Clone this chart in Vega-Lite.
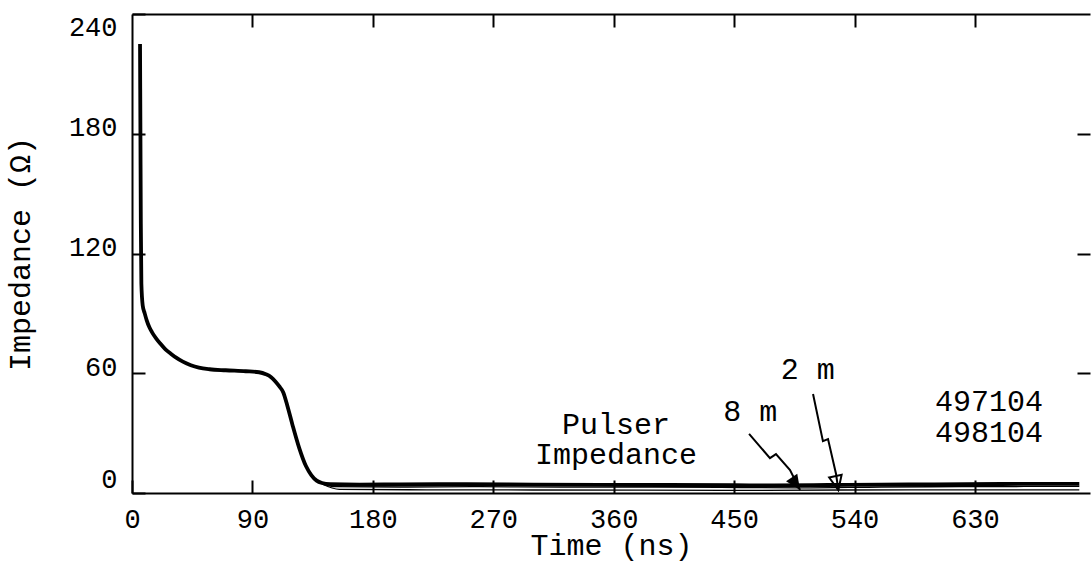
{
  "$schema": "https://vega.github.io/schema/vega-lite/v6.json",
  "width": 958,
  "height": 479,
  "autosize": {"type": "none"},
  "padding": {"left": 132, "top": 14, "right": 1, "bottom": 72},
  "background": "white",
  "config": {
    "view": {"stroke": null},
    "font": "Liberation Mono",
    "axis": {
      "grid": false,
      "domainColor": "black",
      "tickColor": "black",
      "labelColor": "black",
      "titleColor": "black",
      "labelFont": "Liberation Mono",
      "titleFont": "Liberation Mono",
      "titleFontWeight": "normal",
      "labelFontSize": 27,
      "titleFontSize": 30,
      "domainWidth": 2,
      "tickWidth": 2,
      "tickSize": -13
    }
  },
  "datasets": {
    "trace": [
      {"t": 6, "v": 225}, {"t": 6.3, "v": 180}, {"t": 6.6, "v": 135}, {"t": 7, "v": 105},
      {"t": 8, "v": 94}, {"t": 9.5, "v": 90}, {"t": 11, "v": 86.5}, {"t": 13, "v": 83},
      {"t": 15, "v": 80.5}, {"t": 18, "v": 77.5}, {"t": 21, "v": 75}, {"t": 25, "v": 72},
      {"t": 29, "v": 69.8}, {"t": 33, "v": 67.8}, {"t": 38, "v": 65.8}, {"t": 44, "v": 64},
      {"t": 50, "v": 62.8}, {"t": 58, "v": 62}, {"t": 70, "v": 61.5}, {"t": 85, "v": 61},
      {"t": 95, "v": 60.5}, {"t": 100, "v": 59.5}, {"t": 104, "v": 58}, {"t": 107, "v": 56},
      {"t": 110, "v": 53.5}, {"t": 113, "v": 50.5}, {"t": 116, "v": 44}, {"t": 120, "v": 34},
      {"t": 125, "v": 22.5}, {"t": 130, "v": 13.5}, {"t": 134, "v": 9}, {"t": 138, "v": 6.2},
      {"t": 142, "v": 5}, {"t": 148, "v": 4.4}, {"t": 170, "v": 4.2}, {"t": 200, "v": 4.3},
      {"t": 250, "v": 4.4}, {"t": 300, "v": 4.2}, {"t": 350, "v": 4.1}, {"t": 400, "v": 4.0},
      {"t": 450, "v": 3.9}, {"t": 480, "v": 3.8}, {"t": 520, "v": 4}, {"t": 560, "v": 4.2},
      {"t": 600, "v": 4.3}, {"t": 650, "v": 4.5}, {"t": 708, "v": 4.6}
    ],
    "thin": [
      {"series": "8 m", "t": 140, "v": 5.5}, {"series": "8 m", "t": 150, "v": 3.2},
      {"series": "8 m", "t": 200, "v": 3}, {"series": "8 m", "t": 260, "v": 3.2},
      {"series": "8 m", "t": 320, "v": 2.9}, {"series": "8 m", "t": 380, "v": 3},
      {"series": "8 m", "t": 440, "v": 2.8}, {"series": "8 m", "t": 500, "v": 2.6},
      {"series": "8 m", "t": 560, "v": 3}, {"series": "8 m", "t": 620, "v": 3.2},
      {"series": "8 m", "t": 708, "v": 3.3},
      {"series": "2 m", "t": 142, "v": 4.5}, {"series": "2 m", "t": 155, "v": 1.8},
      {"series": "2 m", "t": 220, "v": 1.6}, {"series": "2 m", "t": 300, "v": 1.5},
      {"series": "2 m", "t": 380, "v": 1.4}, {"series": "2 m", "t": 450, "v": 1.3},
      {"series": "2 m", "t": 530, "v": 1.5}, {"series": "2 m", "t": 620, "v": 1.6},
      {"series": "2 m", "t": 708, "v": 1.6}
    ],
    "arrows": [
      {"arrow": "8 m", "ord": 1, "t": 461.2, "v": 29.6},
      {"arrow": "8 m", "ord": 2, "t": 476.8, "v": 17.5},
      {"arrow": "8 m", "ord": 3, "t": 481.3, "v": 19.5},
      {"arrow": "8 m", "ord": 4, "t": 491.8, "v": 11.5},
      {"arrow": "8 m", "ord": 5, "t": 499.3, "v": 1.5},
      {"arrow": "2 m", "ord": 1, "t": 509, "v": 49.6},
      {"arrow": "2 m", "ord": 2, "t": 516.4, "v": 26},
      {"arrow": "2 m", "ord": 3, "t": 520.2, "v": 27},
      {"arrow": "2 m", "ord": 4, "t": 526.2, "v": 9.5},
      {"arrow": "2 m", "ord": 5, "t": 527.9, "v": 1.5}
    ],
    "heads": [
      {"arrow": "8 m", "t": 499.3, "v": 1.5},
      {"arrow": "2 m", "t": 527.9, "v": 1.5}
    ],
    "notes": [
      {"label": "2 m", "t": 505, "v": 61.6},
      {"label": "8 m", "t": 462, "v": 40.6},
      {"label": "Pulser", "t": 361.7, "v": 34},
      {"label": "Impedance", "t": 361.7, "v": 19},
      {"label": "497104", "t": 640.5, "v": 45.6},
      {"label": "498104", "t": 640.5, "v": 30}
    ]
  },
  "layer": [
    {
      "data": {"name": "trace"},
      "mark": {"type": "line", "color": "black", "strokeWidth": 3.8, "interpolate": "monotone"},
      "encoding": {
        "x": {
          "field": "t", "type": "quantitative",
          "scale": {"domain": [0, 716], "nice": false, "zero": false},
          "axis": {
            "orient": "bottom",
            "values": [0, 90, 180, 270, 360, 450, 540, 630],
            "title": "Time (ns)",
            "titleY": 52,
            "titleBaseline": "middle",
            "labelPadding": 26,
            "labelFlush": false
          }
        },
        "y": {
          "field": "v", "type": "quantitative",
          "scale": {"domain": [0, 240], "nice": false},
          "axis": {
            "orient": "left",
            "values": [0, 60, 120, 180, 240],
            "title": "Impedance (Ω)",
            "titleX": -112,
            "titleY": 239.5,
            "titleAngle": -90,
            "titleBaseline": "middle",
            "titleAlign": "center",
            "labelPadding": 28,
            "labelFlush": true,
            "labelOffset": {"condition": {"test": "datum.value == 0 || datum.value == 240", "value": 0}, "value": -6}
          }
        }
      }
    },
    {
      "data": {"name": "thin"},
      "mark": {"type": "line", "color": "black", "strokeWidth": 1.3, "interpolate": "monotone"},
      "encoding": {
        "x": {
          "field": "t", "type": "quantitative",
          "axis": {"orient": "top", "labels": false, "title": null, "values": [90, 180, 270, 360, 450, 540, 630], "domain": true}
        },
        "y": {
          "field": "v", "type": "quantitative",
          "axis": {"orient": "right", "labels": false, "title": null, "values": [60, 120, 180], "domain": false}
        },
        "detail": {"field": "series"}
      }
    },
    {
      "data": {"name": "arrows"},
      "mark": {"type": "line", "color": "black", "strokeWidth": 2},
      "encoding": {
        "x": {"field": "t", "type": "quantitative", "axis": null},
        "y": {"field": "v", "type": "quantitative", "axis": null},
        "detail": {"field": "arrow"},
        "order": {"field": "ord"}
      }
    },
    {
      "data": {"name": "heads"},
      "transform": [{"filter": "datum.arrow == '8 m'"}],
      "mark": {"type": "point", "shape": "M-0.45,-1L0.45,-1L0,0Z", "filled": true, "color": "black", "opacity": 1, "size": 900, "angle": -34},
      "encoding": {
        "x": {"field": "t", "type": "quantitative", "axis": null},
        "y": {"field": "v", "type": "quantitative", "axis": null}
      }
    },
    {
      "data": {"name": "heads"},
      "transform": [{"filter": "datum.arrow == '2 m'"}],
      "mark": {"type": "point", "shape": "M-0.45,-1L0.45,-1L0,0Z", "filled": false, "color": "black", "opacity": 1, "strokeWidth": 2, "size": 800, "angle": -12},
      "encoding": {
        "x": {"field": "t", "type": "quantitative", "axis": null},
        "y": {"field": "v", "type": "quantitative", "axis": null}
      }
    },
    {
      "data": {"name": "notes"},
      "mark": {"type": "text", "font": "Liberation Mono", "fontSize": 30, "color": "black", "align": "center", "baseline": "middle"},
      "encoding": {
        "x": {"field": "t", "type": "quantitative", "axis": null},
        "y": {"field": "v", "type": "quantitative", "axis": null},
        "text": {"field": "label"}
      }
    }
  ],
  "resolve": {"axis": {"x": "independent", "y": "independent"}}
}
